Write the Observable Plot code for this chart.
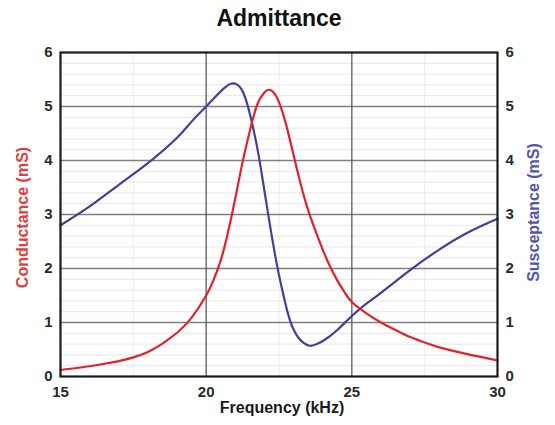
<!DOCTYPE html>
<html>
<head>
<meta charset="utf-8">
<script src="https://cdn.jsdelivr.net/npm/d3@7"></script>
<script src="https://cdn.jsdelivr.net/npm/@observablehq/plot@0.6"></script>
<style>
  html, body { margin: 0; padding: 0; background: #fff; }
  #wrap { width: 555px; height: 425px; position: relative; font-family: "Liberation Sans", Arial, sans-serif; }
  #title { position: absolute; left: 0; top: 5px; width: 555px; text-align: center; padding-left: 3px; box-sizing: border-box;
           font-weight: bold; font-size: 23px; color: #111; line-height: 26px; }
  #chart { position: absolute; left: 0; top: 0; }
</style>
</head>
<body>
<div id="wrap">
  <div id="chart"></div>
  <div id="title">Admittance</div>
</div>
<script>
// Conductance (red), mS vs frequency kHz
const condFreq = [15, 16, 16.5, 17, 17.5, 18, 18.5, 19, 19.5, 20, 20.25, 20.5, 20.75, 21, 21.25, 21.5, 21.75, 22, 22.15, 22.3, 22.5, 22.75, 23, 23.25, 23.5, 23.75, 24, 24.25, 24.5, 24.75, 25, 25.5, 26, 26.5, 27, 27.5, 28, 29, 30];
const condVal  = [0.12, 0.19, 0.235, 0.285, 0.355, 0.455, 0.61, 0.81, 1.09, 1.5, 1.78, 2.15, 2.67, 3.3, 3.97, 4.55, 5.03, 5.26, 5.31, 5.27, 5.08, 4.65, 4.1, 3.55, 3.08, 2.7, 2.35, 2.04, 1.78, 1.56, 1.38, 1.17, 1.0, 0.86, 0.73, 0.63, 0.54, 0.41, 0.3];
// Susceptance (blue)
const suscFreq = [15, 16, 17, 18, 19, 19.5, 20, 20.3, 20.6, 20.85, 21.05, 21.2, 21.35, 21.55, 21.8, 22.1, 22.4, 22.6, 22.8, 22.95, 23.1, 23.3, 23.55, 23.8, 24.1, 24.5, 25, 25.5, 26, 27, 28, 29, 30];
const suscVal  = [2.8, 3.15, 3.55, 3.95, 4.42, 4.72, 5.0, 5.17, 5.33, 5.42, 5.41, 5.33, 5.15, 4.75, 4.1, 3.1, 2.15, 1.63, 1.18, 0.93, 0.77, 0.64, 0.57, 0.6, 0.69, 0.86, 1.12, 1.35, 1.55, 1.97, 2.35, 2.67, 2.92];
const xTicks = [15, 20, 25, 30];
const yTicks = [0, 1, 2, 3, 4, 5, 6];
const xMajorGrid = [20, 25];
const yMajorGrid = [1, 2, 3, 4, 5];
const yMinorGrid = [0.2, 0.4, 0.6, 0.8, 1.2, 1.4, 1.6, 1.8, 2.2, 2.4, 2.6, 2.8, 3.2, 3.4, 3.6, 3.8, 4.2, 4.4, 4.6, 4.8, 5.2, 5.4, 5.6, 5.8];
const xMinorGrid = [17.5, 22.5, 27.5];
const xLabel = "Frequency (kHz)";
const leftLabel = "Conductance (mS)";
const rightLabel = "Susceptance (mS)";

const cond = condFreq.map((f, i) => ({f, v: condVal[i]}));
const susc = suscFreq.map((f, i) => ({f, v: suscVal[i]}));

const RED = "#e0222c";
const BLUE = "#41419a";

const chart = Plot.plot({
  width: 555,
  height: 425,
  marginLeft: 60,
  marginRight: 58,
  marginTop: 52,
  marginBottom: 49,
  style: {fontFamily: "'Liberation Sans', Arial, sans-serif", background: "transparent"},
  x: {domain: [15, 30]},
  y: {domain: [0, 6]},
  marks: [
    Plot.ruleY(yMinorGrid, {stroke: "#e6e6e6", strokeWidth: 1}),
    Plot.ruleX(xMinorGrid, {stroke: "#ececec", strokeWidth: 1}),
    Plot.ruleY(yMajorGrid, {stroke: "#808080", strokeWidth: 1.6}),
    Plot.ruleX(xMajorGrid, {stroke: "#5a5a5a", strokeWidth: 1.3}),
    Plot.line(susc, {x: "f", y: "v", stroke: BLUE, strokeWidth: 2.2, curve: "natural"}),
    Plot.line(cond, {x: "f", y: "v", stroke: RED, strokeWidth: 2.2, curve: "natural"}),
    Plot.frame({stroke: "#1a1a1a", strokeWidth: 2.2}),
    Plot.axisX({ticks: xTicks, tickFormat: "d", tickSize: 0, tickPadding: 10, label: null, fontSize: 15, fontWeight: "bold", fill: "#2a2a2a"}),
    Plot.axisY({anchor: "left", ticks: yTicks, tickFormat: "d", tickSize: 0, tickPadding: 8, label: null, fontSize: 15, fontWeight: "bold", fill: "#2a2a2a"}),
    Plot.axisY({anchor: "right", ticks: yTicks, tickFormat: "d", tickSize: 0, tickPadding: 8, label: null, fontSize: 15, fontWeight: "bold", fill: "#2a2a2a"}),
    Plot.text([xLabel], {frameAnchor: "bottom", dy: 36, fontSize: 16, fontWeight: "bold", fill: "#1a1a1a", dx: 3}),
    Plot.text([leftLabel], {frameAnchor: "left", textAnchor: "middle", rotate: -90, dx: -38, dy: 3, fontSize: 16, fontWeight: "bold", fill: "#e04040"}),
    Plot.text([rightLabel], {frameAnchor: "right", textAnchor: "middle", rotate: -90, dx: 36, dy: -2, fontSize: 16, fontWeight: "bold", fill: "#5555aa"})
  ]
});
document.getElementById("chart").appendChild(chart);
</script>
</body>
</html>
